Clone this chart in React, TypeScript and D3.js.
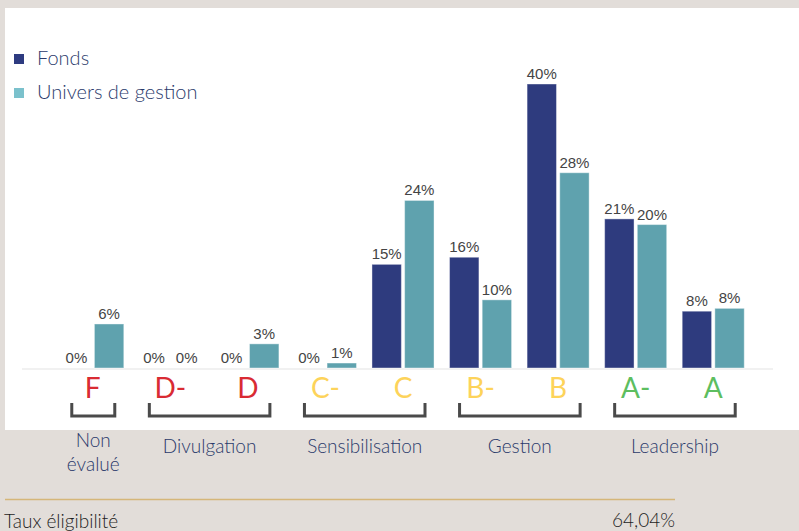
import React from "react";
import * as d3 from "d3";

const grades = ["F", "D-", "D", "C-", "C", "B-", "B", "A-", "A"];
const gradeColors = ["#d92b33", "#d92b33", "#d92b33", "#fdd35a", "#fdd35a", "#fdd35a", "#fdd35a", "#5dbe5f", "#5dbe5f"];
const fonds = [0, 0, 0, 0, 14.6, 15.6, 40, 21, 8];
const univers = [6.2, 0, 3.4, 0.7, 23.6, 9.6, 27.5, 20.2, 8.4];
const seriesNames = ["Fonds", "Univers de gestion"];
const groups = [
  { label: ["Non", "évalué"], from: "F", to: "F" },
  { label: ["Divulgation"], from: "D-", to: "D" },
  { label: ["Sensibilisation"], from: "C-", to: "C" },
  { label: ["Gestion"], from: "B-", to: "B" },
  { label: ["Leadership"], from: "A-", to: "A" },
];
const eligibilityLabel = "Taux éligibilité";
const eligibilityValue = "64,04%";

const width = 799;
const height = 531;
const font = "Lato, 'Noto Sans', sans-serif";

const App = () => {
  const baseY = 368;
  const x0 = d3.scaleBand().domain(grades).range([54, 752]).paddingInner(0.2).paddingOuter(0.1);
  const x1 = d3.scaleBand().domain(seriesNames).range([0, x0.bandwidth()]).paddingInner(0.1);
  const y = d3.scaleLinear().domain([0, 40]).range([baseY, 84]);
  const color = d3.scaleOrdinal<string>().domain(seriesNames).range(["#2e3b7e", "#5fa2ae"]);
  const legendColor = d3.scaleOrdinal<string>().domain(seriesNames).range(["#2e3b80", "#7bc1cc"]);
  const cx = (g: string) => (x0(g) as number) + x0.bandwidth() / 2;

  const rows = grades.map((g, i) => ({ grade: g, values: [fonds[i], univers[i]] }));

  return (
    <svg width={width} height={height} style={{ position: "absolute", left: 0, top: 0 }}>
      <rect width={width} height={height} fill="#e2ddd9" />
      <rect x={5} y={8} width={794} height={422} fill="#ffffff" />

      {/* legend */}
      {seriesNames.map((s, i) => (
        <g key={s} transform={`translate(14, ${54 + i * 34})`}>
          <rect width={10} height={10} fill={legendColor(s)} />
          <text x={23} y={11} fontFamily={font} fontWeight={300} fontSize={20} fill="#2b3a6b">
            {s}
          </text>
        </g>
      ))}

      <line x1={22} x2={773} y1={baseY + 1} y2={baseY + 1} stroke="#f1f1f1" strokeWidth={2} />

      {/* bars */}
      {rows.map((r) => (
        <g key={r.grade} transform={`translate(${x0(r.grade)},0)`}>
          {r.values.map((v, j) => {
            const s = seriesNames[j];
            const bx = x1(s) as number;
            return (
              <g key={s}>
                {v > 0 && (
                  <rect
                    x={bx}
                    y={y(v)}
                    width={x1.bandwidth()}
                    height={baseY - y(v)}
                    fill={color(s)}
                    stroke="#ffffff"
                    strokeOpacity={0.4}
                    strokeWidth={1}
                  />
                )}
                <text
                  x={bx + x1.bandwidth() / 2}
                  y={y(v) - 5}
                  textAnchor="middle"
                  fontFamily="'Liberation Sans', Arial, sans-serif"
                  fontSize={15}
                  fill="#444444"
                >
                  {`${Math.round(v)}%`}
                </text>
              </g>
            );
          })}
        </g>
      ))}

      {/* grade letters */}
      {grades.map((g, i) => (
        <text
          key={g}
          x={cx(g)}
          y={398}
          textAnchor="middle"
          fontFamily={font}
          fontSize={28}
          fill={gradeColors[i]}
        >
          {g}
        </text>
      ))}

      {/* brackets and group labels */}
      {groups.map((gr) => {
        const a = cx(gr.from) - 21;
        const b = cx(gr.to) + 22;
        const mid = (a + b) / 2;
        return (
          <g key={gr.label.join(" ")}>
            <path
              d={`M${a},403 V416 H${b} V403`}
              fill="none"
              stroke="#4a4a4a"
              strokeWidth={3}
            />
            {gr.label.map((line, k) => (
              <text
                key={line}
                x={mid}
                y={gr.label.length > 1 ? 447 + k * 24 : 453}
                textAnchor="middle"
                fontFamily={font}
                fontWeight={300}
                fontSize={19}
                fill="#2b3a6b"
              >
                {line}
              </text>
            ))}
          </g>
        );
      })}

      {/* eligibility */}
      <line x1={5} x2={675} y1={499.5} y2={499.5} stroke="#d5b679" strokeWidth={1.5} />
      <text x={4} y={528} fontFamily={font} fontWeight={300} fontSize={19} fill="#1e1e1e">
        {eligibilityLabel}
      </text>
      <text x={675} y={527} textAnchor="end" fontFamily={font} fontWeight={300} fontSize={19} fill="#1e1e1e">
        {eligibilityValue}
      </text>
    </svg>
  );
};

export default App;
